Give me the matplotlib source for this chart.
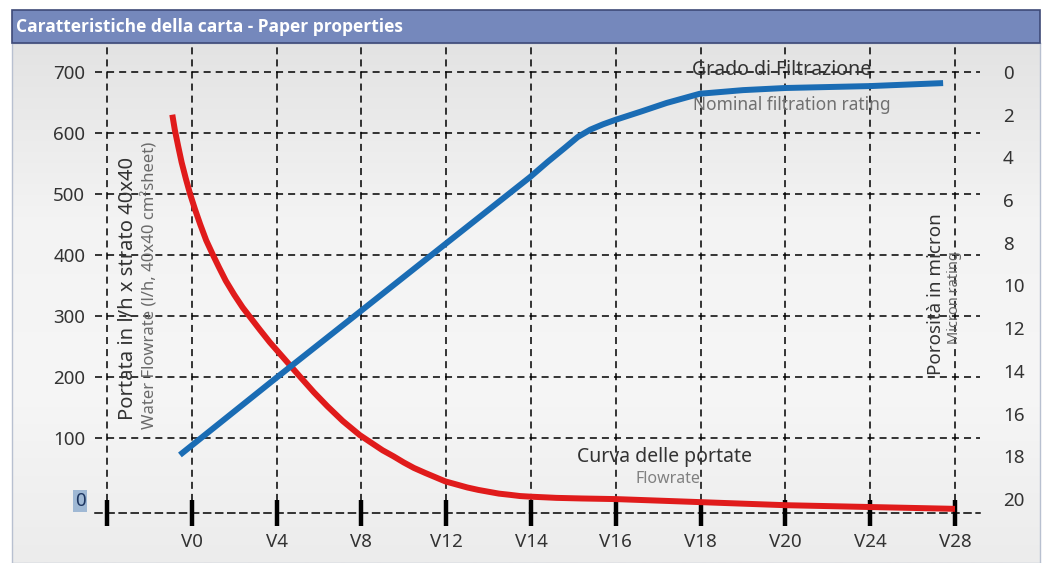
import numpy as np
import matplotlib
matplotlib.use("Agg")
import matplotlib.pyplot as plt
from matplotlib.colors import LinearSegmentedColormap
from matplotlib.patches import Rectangle

plt.rcParams['font.family'] = ['Noto Sans', 'DejaVu Sans']

# categories on the x axis (first slot is empty)
grades = ['', 'V0', 'V4', 'V8', 'V12', 'V14', 'V16', 'V18', 'V20', 'V24', 'V28']

# flowrate curve, l/h (left axis), x in category index units
flow_x = [0.77, 0.80, 0.84, 0.88, 0.93, 0.98, 1.04, 1.10, 1.17, 1.25, 1.32, 1.40, 1.50,
          1.60, 1.70, 1.80, 1.92, 2.04, 2.16, 2.28, 2.44, 2.60, 2.78, 2.98, 3.12,
          3.25, 3.38, 3.50, 3.62, 3.75, 3.87, 3.99, 4.12, 4.25, 4.38, 4.50, 4.62,
          4.75, 4.87, 4.99, 5.3, 5.60, 6.0, 7.0, 8.0, 9.0, 10.0]
flow_y = [630, 605, 578, 552, 525, 500, 474, 450, 424, 400, 380, 358, 335,
          314, 296, 278, 257, 238, 219, 200, 175, 152, 128, 105, 92,
          80, 70, 60, 51, 43, 36, 29, 24, 19, 15, 12, 9,
          7, 5, 4, 2, 1, 0, -5, -10, -13, -16]

# nominal filtration rating, micron (right axis, inverted)
rating_x = [0.86, 1.98, 2.98, 3.99, 4.99, 5.20, 5.40, 5.55, 5.70, 5.85, 5.99, 6.30,
            6.60, 6.99, 7.5, 8.0, 9.0, 9.86]
rating_y = [17.94, 14.38, 11.24, 8.06, 4.92, 4.20, 3.55, 3.05, 2.70, 2.45, 2.25, 1.85,
            1.45, 1.02, 0.85, 0.75, 0.66, 0.52]

left_ticks = [0, 100, 200, 300, 400, 500, 600, 700]
right_ticks = [0, 2, 4, 6, 8, 10, 12, 14, 16, 18, 20]

W, H = 1053, 563
fig = plt.figure(figsize=(W / 100, H / 100), dpi=100)

# panel background with soft gradient
bg = fig.add_axes([12 / W, 0, 1028 / W, 520 / H], zorder=-5)
cmap = LinearSegmentedColormap.from_list('panel', ['#e3e3e3', '#f3f3f3', '#f6f6f6', '#ececec'])
bg.imshow(np.linspace(0, 1, 256).reshape(-1, 1), aspect='auto', cmap=cmap,
          extent=[0, 1, 0, 1], origin='upper')
bg.set_xlim(0, 1)
bg.set_ylim(0, 1)
bg.set_xticks([])
bg.set_yticks([])
for s in bg.spines.values():
    s.set_color('#b8c0d0')
    s.set_linewidth(1)

# title bar
fig.patches.append(Rectangle((12 / W, (H - 43) / H), 1028 / W, 33 / H,
                             transform=fig.transFigure, facecolor='#7588bc',
                             edgecolor='#3e4a78', linewidth=1.2, zorder=-4))
fig.text(16 / W, (H - 27) / H, 'Caratteristiche della carta - Paper properties',
         color='white', fontsize=12.5, fontweight='bold', va='center', ha='left',
         family=['Open Sans', 'DejaVu Sans'])

ax = fig.add_axes([95 / W, (H - 513) / H, 885 / W, 470 / H])
ax.patch.set_visible(False)
ax.set_xlim(-0.1415, 10.295)
ax.set_ylim(-22.8, 747.5)

dash = (0, (4.6, 3.3))
ax.grid(True, color='black', linestyle=dash, linewidth=1.1)
ax.set_axisbelow(True)

ax.set_xticks(range(len(grades)))
ax.set_xticklabels(grades, fontsize=13.5, color='#333333')
ax.tick_params(axis='x', direction='inout', length=19, width=3.2, color='black', pad=5)

ax.set_yticks(left_ticks)
ax.set_yticklabels([str(v) for v in left_ticks], fontsize=13.5, color='#333333')
ax.tick_params(axis='y', length=0, pad=7)
ax.yaxis.get_gridlines()[0].set_visible(False)
zero = ax.get_yticklabels()[0]
zero.set_color('#1d3560')
zero.set_bbox(dict(facecolor='#9fb8d4', edgecolor='none', pad=1.5))

for side in ['left', 'right', 'top']:
    ax.spines[side].set_visible(False)
ax.spines['bottom'].set_linestyle(dash)
ax.spines['bottom'].set_linewidth(1.1)

ax.plot(flow_x, flow_y, color='#e01b1b', linewidth=4.3, solid_capstyle='butt',
        solid_joinstyle='round', zorder=2)

ax2 = ax.twinx()
ax2.set_ylim(20.66, -1.358)
ax2.set_yticks(right_ticks)
ax2.set_yticklabels([str(v) for v in right_ticks], fontsize=13.5, color='#333333')
ax2.tick_params(axis='y', length=0, pad=16.5)
for s in ax2.spines.values():
    s.set_visible(False)
ax2.plot(rating_x, rating_y, color='#1a6cb4', linewidth=4.3, solid_capstyle='butt',
         solid_joinstyle='round')

# annotations
ax.text(7.96, 704, 'Grado di Filtrazione', fontsize=14, color='#333333',
        ha='center', va='center')
ax.text(8.08, 646, 'Nominal filtration rating', fontsize=12.5, color='#707070',
        ha='center', va='center')
ax.text(6.58, 69, 'Curva delle portate', fontsize=14, color='#333333',
        ha='center', va='center')
ax.text(6.62, 33, 'Flowrate', fontsize=11.5, color='#808080',
        ha='center', va='center')
ax.text(0.25, 346, 'Portata in l/h x strato 40x40', fontsize=14.5, color='#333333',
        rotation=90, ha='center', va='center')
ax.text(0.51, 350, 'Water Flowrate (l/h, 40x40 cm\u00b2sheet)', fontsize=12,
        color='#6a6a6a', rotation=90, ha='center', va='center')
ax.text(9.776, 336, 'Porosità in micron', fontsize=13.5, color='#333333',
        rotation=90, ha='center', va='center')
ax.text(10.0, 331, 'Micron rating', fontsize=10.5, color='#666666',
        rotation=90, ha='center', va='center')

fig.savefig('out.png', dpi=100, facecolor='white')
